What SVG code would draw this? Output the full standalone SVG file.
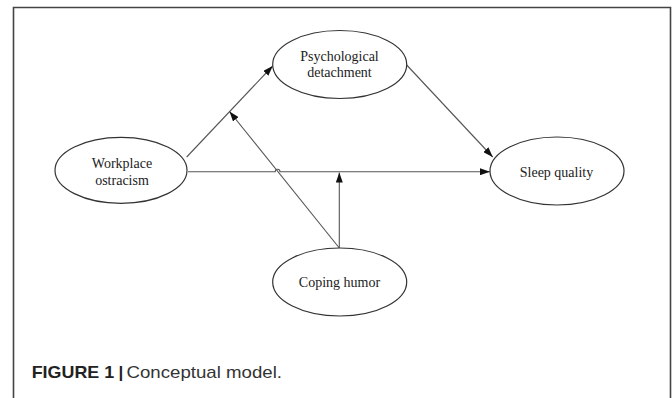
<svg xmlns="http://www.w3.org/2000/svg" width="672" height="398" viewBox="0 0 672 398">
  <style>
    .node ellipse { fill: #ffffff; stroke: #333333; stroke-width: 1.2; }
    .node text { font-family: "Liberation Serif", "Times New Roman", serif; font-size: 14px; fill: #222222; text-anchor: middle; }
    .edge { fill: none; stroke: #555555; stroke-width: 1.1; }
    .cap { font-family: "Liberation Sans", Arial, sans-serif; font-size: 17px; }
  </style>
  <defs>
    <marker id="arrow" viewBox="0 0 10 7" refX="10" refY="3.5" markerWidth="10" markerHeight="7" orient="auto" markerUnits="userSpaceOnUse">
      <path d="M0,0 L10,3.5 L0,7 z" fill="#111111"/>
    </marker>
  </defs>
  <rect width="672" height="398" fill="#ffffff"/>
  <path d="M13.5,400 V7.5 H670.5 V400" fill="none" stroke="#444444" stroke-width="1.6"/>

  <g id="connectors">
    <path class="edge" d="M186.7,157 L272.7,66" marker-end="url(#arrow)"/>
    <path class="edge" d="M406.7,65 L492.7,157" marker-end="url(#arrow)"/>
    <path class="edge" d="M188,171.7 H275.2 A2.4,2.4 0 0 1 280,171.7 H490" marker-end="url(#arrow)"/>
    <path class="edge" d="M339.3,248 L339.3,172.5" marker-end="url(#arrow)"/>
    <path class="edge" d="M339.3,248 L229.5,111.5" marker-end="url(#arrow)"/>
  </g>

  <g id="node-psychological-detachment" class="node">
    <ellipse cx="339.7" cy="64.5" rx="67" ry="34"/>
    <text x="339.5" y="60.5">Psychological</text>
    <text x="339.5" y="76.5">detachment</text>
  </g>
  <g id="node-workplace-ostracism" class="node">
    <ellipse cx="121" cy="170.3" rx="66" ry="33"/>
    <text x="122" y="168">Workplace</text>
    <text x="122" y="185">ostracism</text>
  </g>
  <g id="node-sleep-quality" class="node">
    <ellipse cx="557" cy="171" rx="67" ry="34"/>
    <text x="556.5" y="176.5">Sleep quality</text>
  </g>
  <g id="node-coping-humor" class="node">
    <ellipse cx="339.7" cy="282" rx="67" ry="34"/>
    <text x="339.5" y="286.5">Coping humor</text>
  </g>

  <g id="caption">
    <text class="cap" x="31.7" y="378.3" font-weight="bold" fill="#222222" textLength="82.5" lengthAdjust="spacingAndGlyphs">FIGURE 1</text>
    <text class="cap" x="118.5" y="378.3" font-weight="bold" fill="#222222">|</text>
    <text class="cap" x="126.5" y="378.3" fill="#333333" textLength="155.5" lengthAdjust="spacingAndGlyphs">Conceptual model.</text>
  </g>
</svg>
